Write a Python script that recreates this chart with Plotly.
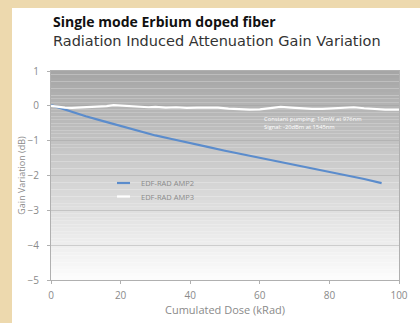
import plotly.graph_objects as go

# ---- data ----
amp2_x = [0, 5, 10, 15, 20, 25, 30, 35, 40, 45, 50, 55, 60, 65, 70, 75, 80, 85, 90, 95]
amp2_y = [0.02, -0.15, -0.30, -0.44, -0.58, -0.71, -0.85, -0.96, -1.06, -1.18, -1.29, -1.39, -1.49, -1.60, -1.70, -1.80, -1.90, -2.00, -2.10, -2.22]

amp3_x = [0, 2, 4, 6, 8, 10, 12, 14, 16, 18, 20, 22, 24, 26, 28, 30, 33, 36, 39, 42, 45, 48, 51, 54,
          57, 60, 63, 66, 69, 72, 75, 78, 81, 84, 87, 90, 93, 96, 100]
amp3_y = [0.0, -0.03, -0.05, -0.06, -0.05, -0.06, -0.04, -0.03, -0.01, 0.02, 0.01, -0.02, -0.03, -0.02,
          -0.04, -0.03, -0.05, -0.04, -0.06, -0.05, -0.04, -0.05, -0.08, -0.10, -0.11, -0.10, -0.06,
          -0.03, -0.05, -0.08, -0.09, -0.09, -0.08, -0.06, -0.04, -0.07, -0.09, -0.11, -0.11]

series_names = ["EDF-RAD AMP2", "EDF-RAD AMP3"]
series_colors = ["#5b8ccc", "#ffffff"]

x_ticks = [0, 20, 40, 60, 80, 100]
y_ticks = [1, 0, -1, -2, -3, -4, -5]

title = "<b>Single mode Erbium doped fiber</b>"
subtitle = "Radiation Induced Attenuation Gain Variation"
note = "Constant pumping: 10mW at 976nm<br>Signal: -20dBm at 1545nm"

# plot-area geometry (pixels) used for paper-coordinate conversions
L, R, T, B = 51, 399, 71, 280
def px(xp):
    return (xp - L) / (R - L)
def py(yp):
    return (B - yp) / (B - T)

fig = go.Figure()
fig.add_trace(go.Scatter(x=amp2_x, y=amp2_y, mode="lines", name=series_names[0],
                         line=dict(color=series_colors[0], width=2.2), showlegend=False))
fig.add_trace(go.Scatter(x=amp3_x, y=amp3_y, mode="lines", name=series_names[1],
                         line=dict(color=series_colors[1], width=2.2), showlegend=False))

shapes = []
parch = "#edd9ae"
# white card over a parchment page background
shapes.append(dict(type="rect", xref="paper", yref="paper", x0=px(12), x1=px(440), y0=py(340), y1=py(8),
                   fillcolor="#ffffff", line=dict(width=0), layer="below"))
# gradient plot background
n = 60
top = (166, 166, 166)
bot = (252, 252, 252)
for i in range(n):
    t = i / (n - 1)
    c = tuple(int(round(top[k] + (bot[k] - top[k]) * t)) for k in range(3))
    y0 = 1 - 6 * i / n
    y1 = 1 - 6 * (i + 1) / n
    shapes.append(dict(type="rect", xref="x", yref="y", x0=0, x1=100, y0=y0, y1=y1,
                       fillcolor="rgb(%d,%d,%d)" % c, line=dict(width=0), layer="below"))

annotations = [
    dict(text=title, xref="paper", yref="paper", x=px(51), y=py(21),
         xanchor="left", yanchor="middle", showarrow=False,
         font=dict(size=14, color="#111111", family="Open Sans, sans-serif")),
    dict(text=subtitle, xref="paper", yref="paper", x=px(51), y=py(41),
         xanchor="left", yanchor="middle", showarrow=False,
         font=dict(size=14.5, color="#333333", family="DejaVu Sans, sans-serif")),
    dict(text=note, xref="x", yref="y", x=60.5, y=-0.5, xanchor="left", yanchor="middle",
         align="left", showarrow=False, font=dict(size=5.8, color="#ffffff")),
]

# manual legend
leg_rows = [183, 196.5]
for name, col, yr in zip(series_names, series_colors, leg_rows):
    shapes.append(dict(type="line", xref="paper", yref="paper", x0=px(117), x1=px(130),
                       y0=py(yr), y1=py(yr), line=dict(color=col, width=2.2), layer="above"))
    annotations.append(dict(text=name, xref="paper", yref="paper", x=px(139), y=py(yr),
                            xanchor="left", yanchor="middle", showarrow=False,
                            font=dict(size=7.5, color="#8a8a8a")))

fig.update_layout(
    width=420, height=323,
    margin=dict(l=L, r=420 - R, t=T, b=323 - B),
    paper_bgcolor=parch,
    plot_bgcolor="rgba(0,0,0,0)",
    shapes=shapes,
    annotations=annotations,
    font=dict(family="Open Sans, sans-serif", color="#8a8a8a"),
    showlegend=False,
    xaxis=dict(range=[0, 100], tickvals=x_ticks, showgrid=False, zeroline=False,
               showline=True, linecolor="#b0b0b0", linewidth=1, mirror=True,
               ticks="outside", ticklen=3, tickcolor="#b0b0b0", ticklabelstandoff=3,
               tickfont=dict(size=10, color="#8a8a8a"),
               title=dict(text="Cumulated Dose (kRad)", font=dict(size=11, color="#8a8a8a"), standoff=2)),
    yaxis=dict(range=[-5, 1], tickvals=y_ticks, showgrid=True, gridcolor="rgba(120,120,120,0.3)",
               gridwidth=1, zeroline=False,
               showline=True, linecolor="#b0b0b0", linewidth=1, mirror=True,
               ticks="outside", ticklen=3, tickcolor="#b0b0b0", ticklabelstandoff=6,
               tickfont=dict(size=10, color="#8a8a8a"),
               title=dict(text="Gain Variation (dB)", font=dict(size=9, color="#8a8a8a"), standoff=0)),
)

fig.write_html("out.html", config={"displayModeBar": False},
               post_script="document.body.style.margin='0';document.body.style.padding='0';")
